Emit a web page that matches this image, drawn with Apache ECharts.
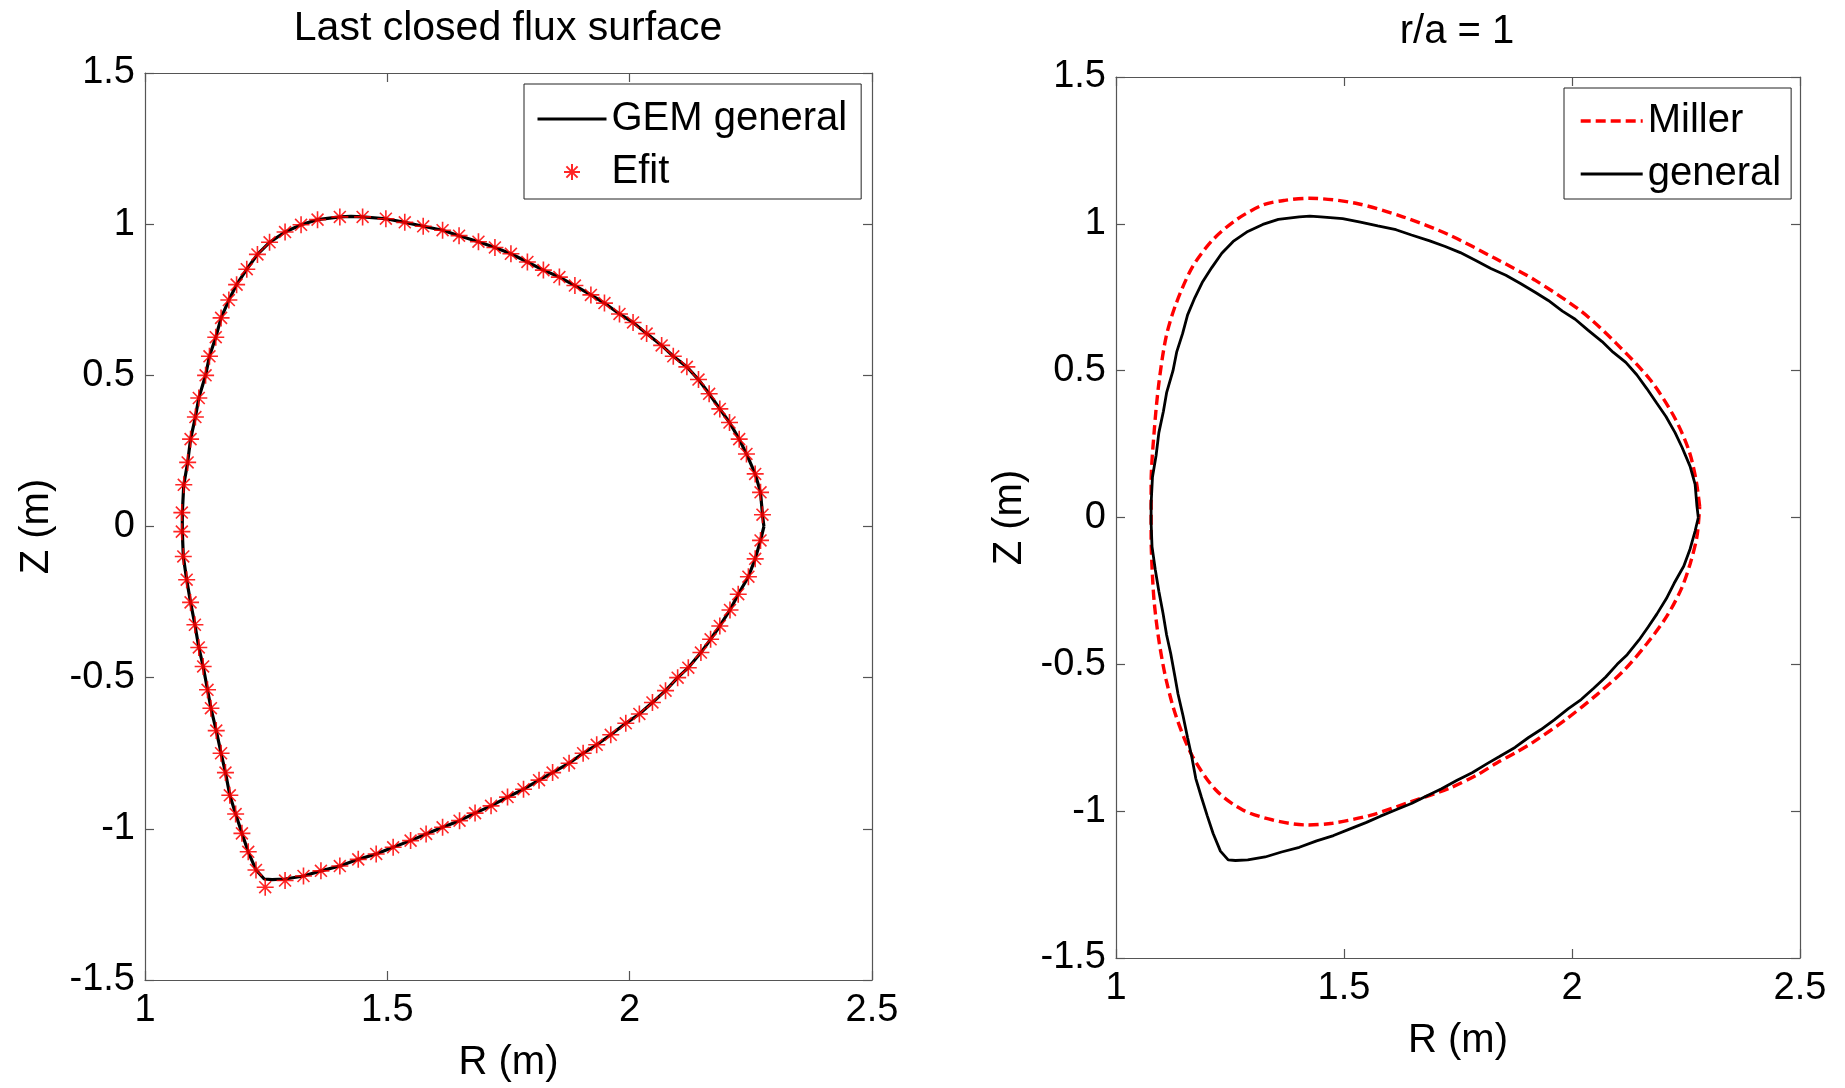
<!DOCTYPE html>
<html>
<head>
<meta charset="utf-8">
<script src="https://cdn.jsdelivr.net/npm/echarts@6/dist/echarts.min.js"></script>
<style>
html,body{margin:0;padding:0;background:#fff;}
#chart{width:1845px;height:1088px;}
</style>
</head>
<body>
<div id="chart"></div>
<script>
// ---- Data ----
const titleLeft = 'Last closed flux surface';
const titleRight = 'r/a = 1';
const xTicks = [1, 1.5, 2, 2.5];
const yTicks = [-1.5, -1, -0.5, 0, 0.5, 1, 1.5];

// Efit markers (R, Z)
const efitR = [2.274, 2.270, 2.259, 2.241, 2.226, 2.206, 2.186, 2.164, 2.142, 2.118, 2.090, 2.066, 2.035, 2.007, 1.979, 1.948, 1.920, 1.887, 1.855, 1.822, 1.789, 1.755, 1.722, 1.688, 1.648, 1.614, 1.574, 1.536, 1.497, 1.449, 1.402, 1.356, 1.322, 1.289, 1.257, 1.232, 1.210, 1.189, 1.173, 1.157, 1.146, 1.133, 1.125, 1.111, 1.104, 1.094, 1.088, 1.080, 1.076, 1.076, 1.079, 1.086, 1.094, 1.103, 1.111, 1.120, 1.129, 1.136, 1.147, 1.157, 1.166, 1.175, 1.187, 1.200, 1.213, 1.229, 1.248, 1.289, 1.327, 1.363, 1.402, 1.440, 1.477, 1.512, 1.548, 1.580, 1.614, 1.649, 1.681, 1.714, 1.748, 1.781, 1.813, 1.841, 1.875, 1.904, 1.932, 1.961, 1.992, 2.020, 2.047, 2.074, 2.099, 2.121, 2.147, 2.167, 2.186, 2.207, 2.224, 2.245, 2.259, 2.270];
const efitZ = [0.039, 0.113, 0.174, 0.240, 0.289, 0.344, 0.389, 0.439, 0.486, 0.528, 0.563, 0.599, 0.638, 0.675, 0.703, 0.739, 0.766, 0.797, 0.825, 0.848, 0.875, 0.902, 0.923, 0.942, 0.962, 0.980, 0.993, 1.006, 1.018, 1.024, 1.024, 1.015, 0.998, 0.974, 0.940, 0.900, 0.851, 0.800, 0.749, 0.690, 0.626, 0.563, 0.500, 0.425, 0.362, 0.289, 0.212, 0.138, 0.046, -0.017, -0.099, -0.176, -0.251, -0.325, -0.400, -0.463, -0.540, -0.601, -0.675, -0.750, -0.814, -0.889, -0.951, -1.015, -1.076, -1.136, -1.193, -1.171, -1.156, -1.139, -1.123, -1.101, -1.083, -1.061, -1.039, -1.017, -0.995, -0.973, -0.948, -0.924, -0.895, -0.869, -0.839, -0.814, -0.783, -0.750, -0.722, -0.689, -0.651, -0.620, -0.582, -0.543, -0.500, -0.467, -0.417, -0.373, -0.329, -0.276, -0.224, -0.166, -0.107, -0.046];

// GEM general boundary (closed line)
const genR = [2.277, 2.274, 2.270, 2.259, 2.241, 2.226, 2.206, 2.186, 2.164, 2.142, 2.118, 2.090, 2.066, 2.035, 2.007, 1.979, 1.948, 1.920, 1.887, 1.855, 1.822, 1.789, 1.755, 1.722, 1.688, 1.648, 1.614, 1.574, 1.536, 1.497, 1.449, 1.425, 1.402, 1.356, 1.322, 1.289, 1.257, 1.232, 1.210, 1.189, 1.173, 1.157, 1.146, 1.133, 1.125, 1.111, 1.104, 1.094, 1.088, 1.080, 1.077, 1.077, 1.079, 1.086, 1.094, 1.103, 1.111, 1.120, 1.129, 1.136, 1.147, 1.157, 1.166, 1.175, 1.187, 1.200, 1.213, 1.229, 1.246, 1.262, 1.289, 1.327, 1.363, 1.402, 1.440, 1.477, 1.512, 1.548, 1.580, 1.614, 1.649, 1.681, 1.714, 1.748, 1.781, 1.813, 1.841, 1.875, 1.904, 1.932, 1.961, 1.992, 2.020, 2.047, 2.074, 2.099, 2.121, 2.147, 2.167, 2.186, 2.207, 2.224, 2.245, 2.259, 2.270, 2.277];
const genZ = [0.000, 0.039, 0.113, 0.174, 0.240, 0.289, 0.344, 0.389, 0.439, 0.486, 0.528, 0.563, 0.599, 0.638, 0.675, 0.703, 0.739, 0.766, 0.797, 0.825, 0.848, 0.875, 0.902, 0.923, 0.942, 0.962, 0.980, 0.993, 1.006, 1.018, 1.024, 1.026, 1.024, 1.015, 0.998, 0.974, 0.940, 0.900, 0.851, 0.800, 0.749, 0.690, 0.626, 0.563, 0.500, 0.425, 0.362, 0.289, 0.212, 0.138, 0.046, -0.017, -0.099, -0.176, -0.251, -0.325, -0.400, -0.463, -0.540, -0.601, -0.675, -0.750, -0.814, -0.889, -0.951, -1.015, -1.076, -1.136, -1.166, -1.168, -1.166, -1.156, -1.139, -1.123, -1.101, -1.083, -1.061, -1.039, -1.017, -0.995, -0.973, -0.948, -0.924, -0.895, -0.869, -0.839, -0.814, -0.783, -0.750, -0.722, -0.689, -0.651, -0.620, -0.582, -0.543, -0.500, -0.467, -0.417, -0.373, -0.329, -0.276, -0.224, -0.166, -0.107, -0.046, 0.000];

// Miller boundary (closed line)
const millerR = [2.280, 2.272, 2.256, 2.224, 2.172, 2.097, 2.022, 1.918, 1.828, 1.731, 1.629, 1.526, 1.424, 1.370, 1.322, 1.263, 1.212, 1.168, 1.132, 1.110, 1.094, 1.084, 1.077, 1.077, 1.079, 1.084, 1.095, 1.110, 1.132, 1.168, 1.219, 1.278, 1.344, 1.417, 1.475, 1.556, 1.643, 1.731, 1.790, 1.835, 1.877, 1.915, 1.988, 2.054, 2.113, 2.164, 2.208, 2.240, 2.259, 2.274, 2.280];
const millerZ = [0.037, 0.128, 0.230, 0.343, 0.468, 0.593, 0.700, 0.809, 0.885, 0.962, 1.024, 1.070, 1.087, 1.080, 1.064, 1.013, 0.945, 0.854, 0.729, 0.616, 0.457, 0.298, 0.116, -0.065, -0.168, -0.292, -0.428, -0.553, -0.678, -0.814, -0.928, -0.996, -1.030, -1.047, -1.041, -1.015, -0.970, -0.922, -0.878, -0.836, -0.800, -0.765, -0.686, -0.604, -0.522, -0.430, -0.336, -0.242, -0.158, -0.065, 0.037];

// ---- build ----
const zip = (a, b) => a.map((v, i) => [v, b[i]]);
const FONT = '"Liberation Sans", Arial, Helvetica, sans-serif';
const AXIS_COLOR = '#555';
const ASTERISK = 'path://M0,5L10,5M5,0L5,10M1.5,1.5L8.5,8.5M8.5,1.5L1.5,8.5';

function xAx(grid, bottom) {
  return {
    type: 'value', gridIndex: grid, position: bottom ? 'bottom' : 'top',
    min: xTicks[0], max: xTicks[xTicks.length - 1], interval: 0.5,
    axisLine: { show: true, onZero: false, lineStyle: { color: AXIS_COLOR, width: 1.2 } },
    axisTick: { show: true, inside: true, length: 9, lineStyle: { color: AXIS_COLOR, width: 1.2 } },
    axisLabel: { show: bottom, fontSize: 38, color: '#000', fontFamily: FONT, margin: 12 },
    splitLine: { show: false },
    name: bottom ? 'R (m)' : '', nameLocation: 'middle', nameGap: 63,
    nameTextStyle: { fontSize: 40, color: '#000', fontFamily: FONT }
  };
}
function yAx(grid, left) {
  return {
    type: 'value', gridIndex: grid, position: left ? 'left' : 'right',
    min: yTicks[0], max: yTicks[yTicks.length - 1], interval: 0.5,
    axisLine: { show: true, onZero: false, lineStyle: { color: AXIS_COLOR, width: 1.2 } },
    axisTick: { show: true, inside: true, length: 9, lineStyle: { color: AXIS_COLOR, width: 1.2 } },
    axisLabel: { show: left, fontSize: 38, color: '#000', fontFamily: FONT, margin: 10 },
    splitLine: { show: false },
    name: left ? 'Z (m)' : '', nameLocation: 'middle', nameGap: grid === 0 ? 88 : 86,
    nameTextStyle: { fontSize: 40, color: '#000', fontFamily: FONT }
  };
}

const chart = echarts.init(document.getElementById('chart'), null, { renderer: 'canvas' });
chart.setOption({
  backgroundColor: '#fff',
  animation: false,
  title: [
    { text: titleLeft, left: 508, top: 8, textAlign: 'center', padding: 0,
      textStyle: { fontSize: 41, fontWeight: 'normal', color: '#000', fontFamily: FONT } },
    { text: titleRight, left: 1457, top: 12, textAlign: 'center', padding: 0,
      textStyle: { fontSize: 40, fontWeight: 'normal', color: '#000', fontFamily: FONT } }
  ],
  grid: [
    { left: 145, top: 73, width: 727, height: 908 },
    { left: 1116, top: 77, width: 684, height: 881 }
  ],
  xAxis: [xAx(0, true), xAx(0, false), xAx(1, true), xAx(1, false)],
  yAxis: [yAx(0, true), yAx(0, false), yAx(1, true), yAx(1, false)],
  legend: [
    { orient: 'vertical', left: 524, top: 84, padding: [13, 14, 5, 12], itemGap: 9,
      itemWidth: 69, itemHeight: 16, borderColor: '#222', borderWidth: 1, backgroundColor: '#fff',
      textStyle: { fontSize: 40, color: '#000', fontFamily: FONT, lineHeight: 44 },
      data: [{ name: 'GEM general', itemStyle: { opacity: 0 }, lineStyle: { width: 3 } },
             { name: 'Efit', icon: ASTERISK }] },
    { orient: 'vertical', left: 1564, top: 88, padding: [11, 10, 3, 15], itemGap: 9,
      itemWidth: 62, itemHeight: 14, borderColor: '#222', borderWidth: 1, backgroundColor: '#fff',
      textStyle: { fontSize: 40, color: '#000', fontFamily: FONT, lineHeight: 44 },
      data: [{ name: 'Miller', itemStyle: { opacity: 0 }, lineStyle: { width: 3.4 } },
             { name: 'general', itemStyle: { opacity: 0 }, lineStyle: { width: 3 } }] }
  ],
  series: [
    { name: 'GEM general', type: 'line', xAxisIndex: 0, yAxisIndex: 0, data: zip(genR, genZ),
      symbol: 'none', lineStyle: { color: '#000', width: 3.2 }, itemStyle: { color: '#000' }, z: 2 },
    { name: 'Efit', type: 'scatter', xAxisIndex: 0, yAxisIndex: 0, data: zip(efitR, efitZ),
      symbol: ASTERISK, symbolSize: 17,
      itemStyle: { color: '#ff0000', borderColor: '#ff0000', borderWidth: 1.6, opacity: 0.85 }, z: 3 },
    { name: 'Miller', type: 'line', xAxisIndex: 2, yAxisIndex: 2, data: zip(millerR, millerZ),
      symbol: 'none', smooth: 0.3,
      lineStyle: { color: '#ff0000', width: 3.4, type: [10, 5] }, itemStyle: { color: '#ff0000' }, z: 2 },
    { name: 'general', type: 'line', xAxisIndex: 2, yAxisIndex: 2, data: zip(genR, genZ),
      symbol: 'none', lineStyle: { color: '#000', width: 2.8 }, itemStyle: { color: '#000' }, z: 3 }
  ]
});
</script>
</body>
</html>
